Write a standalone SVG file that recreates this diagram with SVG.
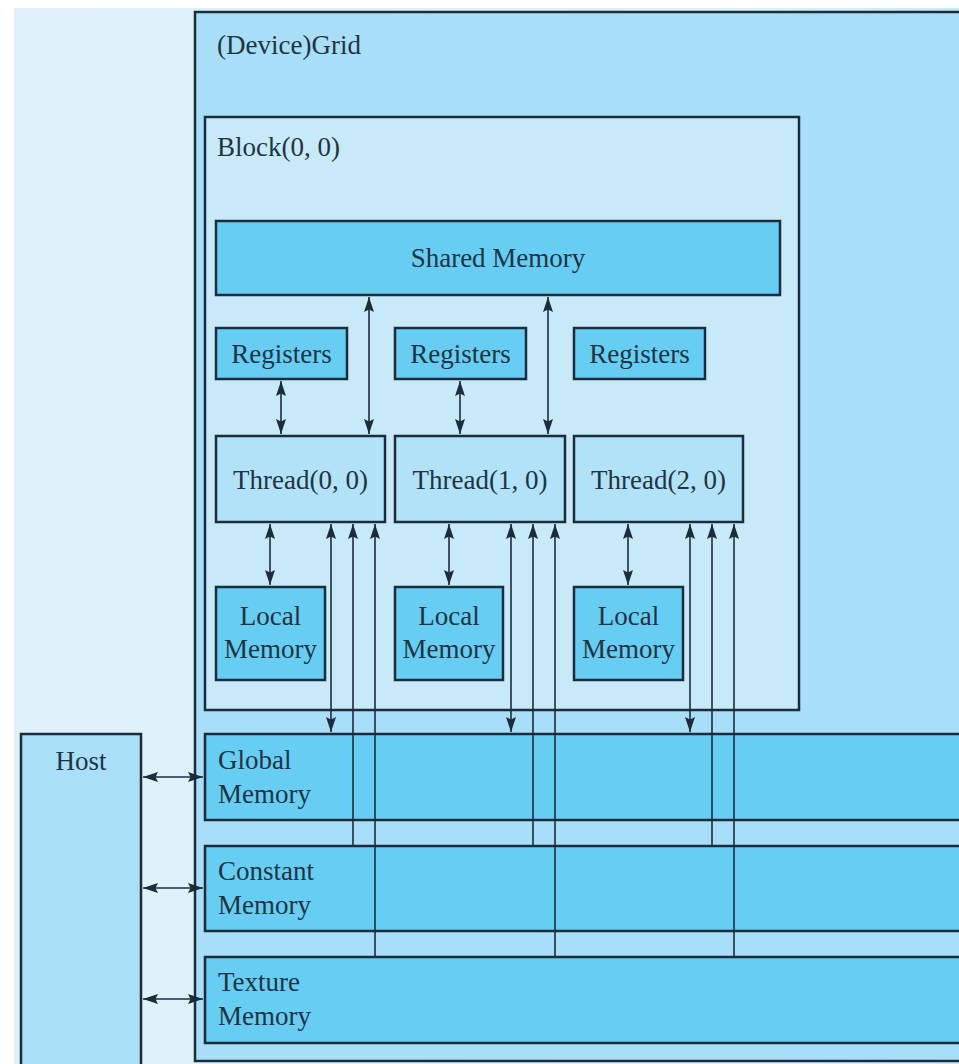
<svg xmlns="http://www.w3.org/2000/svg" width="959" height="1064" viewBox="0 0 959 1064">
<defs>
<style>
.box{stroke:#1b2d3c;stroke-width:2.5}
.mem{fill:#68cdf2}
.thr{fill:#b2e2f7}
.t{font-family:"Liberation Serif","DejaVu Serif","Times New Roman",serif;font-size:27px;fill:#1e3444}
.c{stroke:#1b2d3c;stroke-width:1.6;fill:none}
</style>
<marker id="ah" viewBox="0 0 15 10" refX="15" refY="5" markerWidth="15" markerHeight="10" markerUnits="userSpaceOnUse" orient="auto-start-reverse">
<path d="M0,0 L15,5 L0,10 L2.5,5 z" fill="#1b2d3c"/>
</marker>
<linearGradient id="lbg" x1="0" y1="0" x2="1" y2="0">
<stop offset="0" stop-color="#e0f1fa"/>
<stop offset="0.8" stop-color="#dcf0fa"/>
<stop offset="1" stop-color="#c9e9f8"/>
</linearGradient>
</defs>
<rect x="0" y="0" width="959" height="1064" fill="#ffffff"/>
<rect x="14" y="8" width="945" height="1056" fill="url(#lbg)"/>

<g id="grid">
<rect class="box" x="195" y="12" width="780" height="1049" fill="#a9def8"/>
<text class="t" x="217" y="54">(Device)Grid</text>
</g>
<g id="block">
<rect class="box" x="205" y="117" width="594" height="593" fill="#c7e9f8"/>
<text class="t" x="217" y="156">Block(0, 0)</text>
</g>
<g id="shared">
<rect class="box mem" x="216" y="221" width="564" height="74"/>
<text class="t" x="498" y="267" text-anchor="middle">Shared Memory</text>
</g>
<g id="reg0">
<rect class="box mem" x="216" y="328" width="131" height="51"/>
<text class="t" x="281.5" y="363" text-anchor="middle">Registers</text>
</g>
<g id="reg1">
<rect class="box mem" x="395" y="328" width="131" height="51"/>
<text class="t" x="460.5" y="363" text-anchor="middle">Registers</text>
</g>
<g id="reg2">
<rect class="box mem" x="574" y="328" width="131" height="51"/>
<text class="t" x="639.5" y="363" text-anchor="middle">Registers</text>
</g>
<g id="thread0">
<rect class="box thr" x="216" y="436" width="169" height="86"/>
<text class="t" x="300.5" y="489" text-anchor="middle">Thread(0, 0)</text>
</g>
<g id="thread1">
<rect class="box thr" x="395" y="436" width="170" height="86"/>
<text class="t" x="480" y="489" text-anchor="middle">Thread(1, 0)</text>
</g>
<g id="thread2">
<rect class="box thr" x="574" y="436" width="169" height="86"/>
<text class="t" x="658.5" y="489" text-anchor="middle">Thread(2, 0)</text>
</g>
<g id="local0">
<rect class="box mem" x="216" y="587" width="109" height="93"/>
<text class="t" x="270.5" y="625" text-anchor="middle">Local</text>
<text class="t" x="270.5" y="658" text-anchor="middle">Memory</text>
</g>
<g id="local1">
<rect class="box mem" x="395" y="587" width="108" height="93"/>
<text class="t" x="449" y="625" text-anchor="middle">Local</text>
<text class="t" x="449" y="658" text-anchor="middle">Memory</text>
</g>
<g id="local2">
<rect class="box mem" x="574" y="587" width="109" height="93"/>
<text class="t" x="628.5" y="625" text-anchor="middle">Local</text>
<text class="t" x="628.5" y="658" text-anchor="middle">Memory</text>
</g>
<g id="global">
<rect class="box mem" x="205" y="734" width="770" height="86"/>
<text class="t" x="218" y="769">Global</text>
<text class="t" x="218" y="803">Memory</text>
</g>
<g id="constant">
<rect class="box mem" x="205" y="846" width="770" height="85"/>
<text class="t" x="218" y="880">Constant</text>
<text class="t" x="218" y="914">Memory</text>
</g>
<g id="texture">
<rect class="box mem" x="205" y="957" width="770" height="86"/>
<text class="t" x="218" y="991">Texture</text>
<text class="t" x="218" y="1025">Memory</text>
</g>
<g id="host">
<rect class="box" x="21" y="734" width="120" height="340" fill="#aadff8"/>
<text class="t" x="81" y="770" text-anchor="middle">Host</text>
</g>

<g id="connectors">
<line class="c" x1="281" y1="381" x2="281" y2="434" marker-start="url(#ah)" marker-end="url(#ah)"/>
<line class="c" x1="460" y1="381" x2="460" y2="434" marker-start="url(#ah)" marker-end="url(#ah)"/>
<line class="c" x1="369" y1="297" x2="369" y2="434" marker-start="url(#ah)" marker-end="url(#ah)"/>
<line class="c" x1="548" y1="297" x2="548" y2="434" marker-start="url(#ah)" marker-end="url(#ah)"/>
<line class="c" x1="270" y1="524" x2="270" y2="585" marker-start="url(#ah)" marker-end="url(#ah)"/>
<line class="c" x1="449" y1="524" x2="449" y2="585" marker-start="url(#ah)" marker-end="url(#ah)"/>
<line class="c" x1="628" y1="524" x2="628" y2="585" marker-start="url(#ah)" marker-end="url(#ah)"/>
<line class="c" x1="331" y1="524" x2="331" y2="732" marker-start="url(#ah)" marker-end="url(#ah)"/>
<line class="c" x1="511" y1="524" x2="511" y2="732" marker-start="url(#ah)" marker-end="url(#ah)"/>
<line class="c" x1="690" y1="524" x2="690" y2="732" marker-start="url(#ah)" marker-end="url(#ah)"/>
<line class="c" x1="353" y1="845" x2="353" y2="524" marker-end="url(#ah)"/>
<line class="c" x1="533" y1="845" x2="533" y2="524" marker-end="url(#ah)"/>
<line class="c" x1="712" y1="845" x2="712" y2="524" marker-end="url(#ah)"/>
<line class="c" x1="375" y1="956" x2="375" y2="524" marker-end="url(#ah)"/>
<line class="c" x1="555" y1="956" x2="555" y2="524" marker-end="url(#ah)"/>
<line class="c" x1="734" y1="956" x2="734" y2="524" marker-end="url(#ah)"/>
<line class="c" x1="143" y1="777" x2="203" y2="777" marker-start="url(#ah)" marker-end="url(#ah)"/>
<line class="c" x1="143" y1="888" x2="203" y2="888" marker-start="url(#ah)" marker-end="url(#ah)"/>
<line class="c" x1="143" y1="999" x2="203" y2="999" marker-start="url(#ah)" marker-end="url(#ah)"/>
</g>
</svg>
